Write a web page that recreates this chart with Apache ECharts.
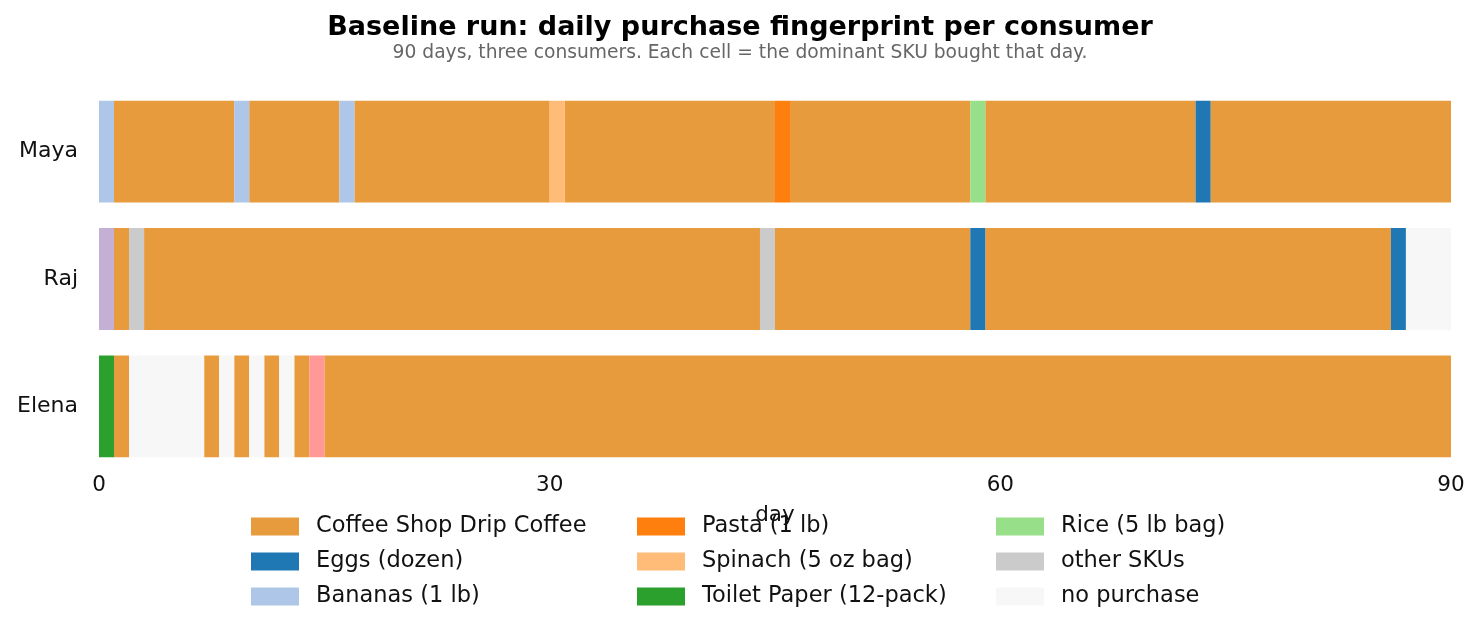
<!DOCTYPE html>
<html>
<head>
<meta charset="utf-8">
<title>Baseline run: daily purchase fingerprint</title>
<script src="https://cdn.jsdelivr.net/npm/echarts@6/dist/echarts.min.js"></script>
<style>
  html, body { margin: 0; padding: 0; background: #fff; }
  #chart { width: 1480px; height: 632px; }
</style>
</head>
<body>
<div id="chart"></div>
<script>
// consumers, top to bottom
var consumers = ['Maya', 'Raj', 'Elena'];

// SKU codes -> legend names / colours
var skuCodes  = ['cof', 'egg', 'ban', 'pas', 'spi', 'tp', 'ric', 'oth', 'none', 'pur', 'pnk'];
var skuNames  = ['Coffee Shop Drip Coffee', 'Eggs (dozen)', 'Bananas (1 lb)',
                 'Pasta (1 lb)', 'Spinach (5 oz bag)', 'Toilet Paper (12-pack)',
                 'Rice (5 lb bag)', 'other SKUs', 'no purchase',
                 'unlisted SKU A', 'unlisted SKU B'];
var skuColors = ['#e89b3c', '#1f77b4', '#aec7e8', '#ff7f0e', '#ffbb78', '#2ca02c',
                 '#98df8a', '#cbcbcb', '#f7f7f7', '#c5b0d5', '#ff9896'];

// runs of days: [sku, number of days], day 0 .. 89
var mayaRuns  = [['ban',1],['cof',8],['ban',1],['cof',6],['ban',1],['cof',13],['spi',1],
                 ['cof',14],['pas',1],['cof',12],['ric',1],['cof',14],['egg',1],['cof',16]];
var rajRuns   = [['pur',1],['cof',1],['oth',1],['cof',41],['oth',1],['cof',13],['egg',1],
                 ['cof',27],['egg',1],['none',3]];
var elenaRuns = [['tp',1],['cof',1],['none',5],['cof',1],['none',1],['cof',1],['none',1],
                 ['cof',1],['none',1],['cof',1],['pnk',1],['cof',75]];

var dayTicks = [0, 30, 60, 90];

//把每个人的连续天数转成 [起始天, 行, 天数]，按SKU分组
function buildSkuData() {
    var allRuns = [mayaRuns, rajRuns, elenaRuns];
    var bySku = {};
    skuCodes.forEach(function (c) { bySku[c] = []; });
    allRuns.forEach(function (runs, row) {
        var day = 0;
        runs.forEach(function (r) {
            bySku[r[0]].push([day, consumers[row], r[1]]);
            day += r[1];
        });
    });
    return bySku;
}

function renderCell(params, api) {
    var start = api.value(0);
    var len = api.value(2);
    var row = api.value(1);
    var p0 = api.coord([start, row]);
    var p1 = api.coord([start + len, row]);
    var h = api.size([0, 1])[1] * 0.8;
    return {
        type: 'rect',
        shape: { x: p0[0], y: p0[1] - h / 2, width: p1[0] - p0[0], height: h },
        style: { fill: api.visual('color') }
    };
}

function makeLegend(names, left) {
    return {
        orient: 'vertical',
        left: left,
        top: 510,
        itemWidth: 48,
        itemHeight: 18,
        itemGap: 12,
        icon: 'rect',
        data: names,
        selectedMode: false,
        textStyle: {
            fontFamily: 'DejaVu Sans',
            fontSize: 22.5,
            color: '#111',
            lineHeight: 20,
            padding: [0, 0, 0, 12]
        }
    };
}

function drawFingerprint(domId) {
    var bySku = buildSkuData();
    var series = skuCodes.map(function (c, i) {
        return {
            name: skuNames[i],
            type: 'custom',
            renderItem: renderCell,
            itemStyle: { color: skuColors[i] },
            encode: { x: [0, 2], y: 1 },
            data: bySku[c]
        };
    });

    var option = {
        animation: false,
        backgroundColor: '#fff',
        title: [
            {
                text: 'Baseline run: daily purchase fingerprint per consumer',
                left: 'center',
                top: 9,
                textStyle: { fontFamily: 'DejaVu Sans', fontSize: 27, fontWeight: 'bold', color: '#000' }
            },
            {
                text: '90 days, three consumers. Each cell = the dominant SKU bought that day.',
                left: 'center',
                top: 39,
                textStyle: { fontFamily: 'DejaVu Sans', fontSize: 18.7, fontWeight: 'normal', color: '#666' }
            }
        ],
        legend: [
            makeLegend(skuNames.slice(0, 3), 246),
            makeLegend(skuNames.slice(3, 6), 632),
            makeLegend(skuNames.slice(6, 9), 991)
        ],
        grid: { left: 99, right: 29, top: 88, bottom: 162 },
        xAxis: {
            type: 'value',
            min: 0,
            max: 90,
            interval: 30,
            name: 'day',
            nameLocation: 'middle',
            nameGap: 34,
            nameTextStyle: { fontFamily: 'DejaVu Sans', fontSize: 21.5, color: '#111' },
            axisLine: { show: false },
            axisTick: { show: false },
            splitLine: { show: false },
            axisLabel: {
                margin: 4,
                fontFamily: 'DejaVu Sans',
                fontSize: 21.5,
                color: '#111',
                formatter: function (v) { return dayTicks.indexOf(v) >= 0 ? String(v) : ''; }
            }
        },
        yAxis: {
            type: 'category',
            data: consumers,
            inverse: true,
            axisLine: { show: false },
            axisTick: { show: false },
            splitLine: { show: false },
            axisLabel: { margin: 21, fontFamily: 'DejaVu Sans', fontSize: 22, color: '#111' }
        },
        series: series
    };

    var chart = echarts.init(document.getElementById(domId));
    chart.setOption(option);
}

drawFingerprint('chart');
</script>
</body>
</html>
